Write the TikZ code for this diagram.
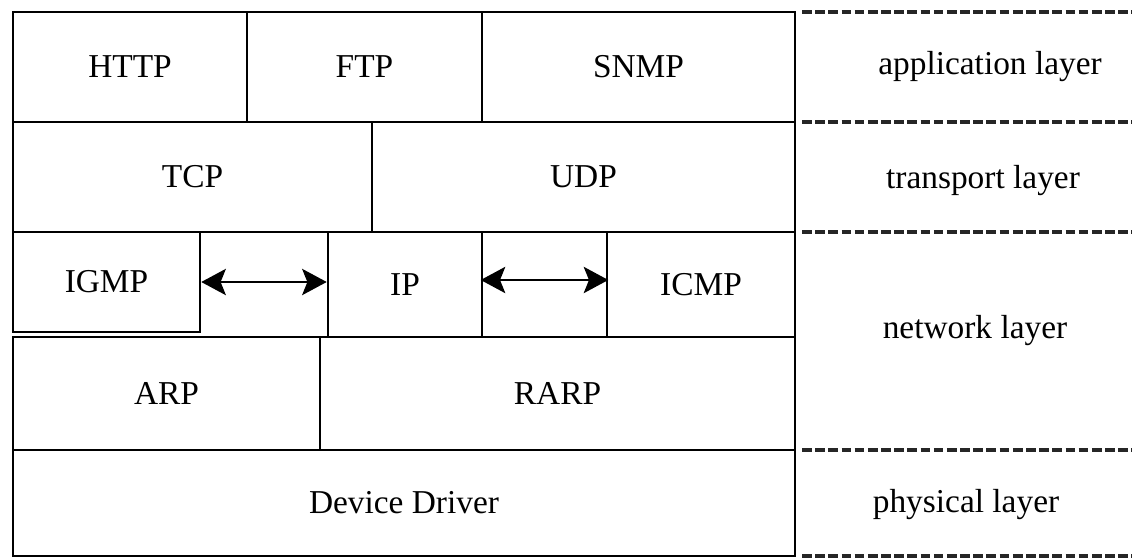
\documentclass[tikz,border=0pt]{standalone}
\usepackage{fontspec}
\setmainfont{Liberation Serif}
\usepackage{tikz}
\usetikzlibrary{arrows.meta}
\tikzstyle{proto}=[draw, line width=1.5pt, inner sep=0pt, font=\fontsize{19}{22}\selectfont]
\tikzstyle{sep}=[line width=2pt, dash pattern=on 5.5pt off 2pt, draw=black!85]
\tikzstyle{lname}=[font=\fontsize{19}{22}\selectfont]
\tikzstyle{link}=[line width=0.9pt, {Stealth[length=14pt, width=15pt, inset=3pt]}-{Stealth[length=14pt, width=15pt, inset=3pt]}]

\begin{document}
\begin{tikzpicture}[x=0.02cm, y=-0.02cm]
        \useasboundingbox (0, 0) rectangle (1132, 558);
        \node[proto, minimum width=4.68cm, minimum height=2.2cm] (http) at (130, 67) {HTTP};
        \node[proto, minimum width=4.7cm, minimum height=2.2cm] (ftp) at (364.5, 67) {FTP};
        \node[proto, minimum width=6.26cm, minimum height=2.2cm] (snmp) at (638.5, 67) {SNMP};
        \node[proto, minimum width=7.18cm, minimum height=2.2cm] (tcp) at (192.5, 177) {TCP};
        \node[proto, minimum width=8.46cm, minimum height=2.2cm] (udp) at (583.5, 177) {UDP};
        \node[proto, minimum width=3.74cm, minimum height=2cm] (igmp) at (106.5, 282) {IGMP};
        \node[proto, minimum width=3.08cm, minimum height=2.1cm] (ip) at (405, 284.5) {IP};
        \node[proto, minimum width=2.5cm, minimum height=2.1cm] (gap) at (544.5, 284.5) {};
        \node[proto, minimum width=3.76cm, minimum height=2.1cm] (icmp) at (701, 284.5) {ICMP};
        \node[proto, minimum width=6.14cm, minimum height=2.26cm] (arp) at (166.5, 393.5) {ARP};
        \node[proto, minimum width=9.5cm, minimum height=2.26cm] (rarp) at (557.5, 393.5) {RARP};
        \node[proto, minimum width=15.64cm, minimum height=2.12cm] (drv) at (404, 503) {Device Driver};
        \draw[link] (igmp.east) -- (igmp.east -| ip.west);
        \draw[link] ([yshift=0.09cm]gap.west) -- ([yshift=0.09cm]gap.east);
        \coordinate (s0) at (802, 12);
        \coordinate (s1) at (802, 122);
        \coordinate (s2) at (802, 232);
        \coordinate (s3) at (802, 450);
        \coordinate (s4) at (802, 556);
        \draw[sep] (s0) -- +(330, 0);
        \draw[sep] (s1) -- +(330, 0);
        \draw[sep] (s2) -- +(330, 0);
        \draw[sep] (s3) -- +(330, 0);
        \draw[sep] (s4) -- +(330, 0);
        \node[lname] (app) at (990, 67) {application layer};
        \node[lname] (trans) at (983, 181) {transport layer};
        \node[lname] (net) at (975, 331) {network layer};
        \node[lname] (phys) at (966, 505) {physical layer};
    \end{tikzpicture}
\end{document}
